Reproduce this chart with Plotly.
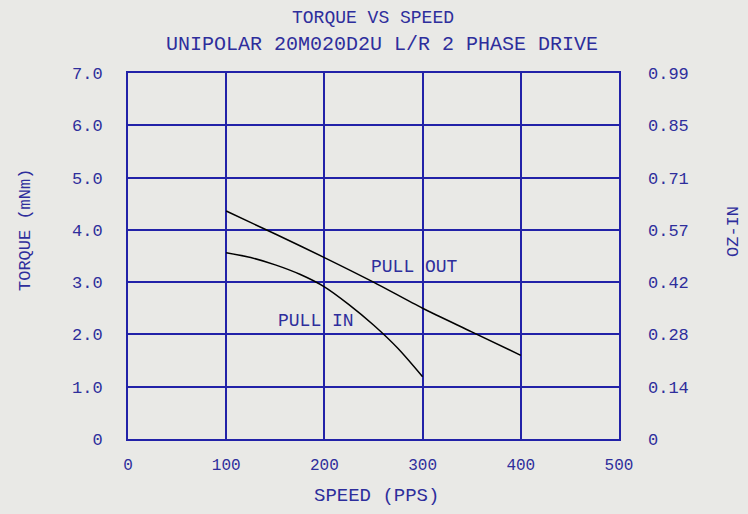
import plotly.graph_objects as go

# speed (pps) vs torque (mNm)
pull_out_speed = [100, 150, 200, 250, 300, 350, 400]
pull_out_torque = [4.36, 3.92, 3.47, 3.00, 2.50, 2.05, 1.60]

pull_in_speed = [100, 125, 150, 175, 200, 225, 250, 275, 300]
pull_in_torque = [3.56, 3.47, 3.33, 3.15, 2.91, 2.57, 2.18, 1.73, 1.19]

torque_ticks = [0, 1, 2, 3, 4, 5, 6, 7]
torque_labels = ["0", "1.0", "2.0", "3.0", "4.0", "5.0", "6.0", "7.0"]
ozin_labels = ["0", "0.14", "0.28", "0.42", "0.57", "0.71", "0.85", "0.99"]
speed_ticks = [0, 100, 200, 300, 400, 500]

BLUE = "#2222a8"
TEXT = "#2e2e9c"
BG = "#e9e9e6"
FONT = "Liberation Mono"

fig = go.Figure()
fig.add_trace(go.Scatter(x=pull_out_speed, y=pull_out_torque, mode="lines",
                         line=dict(color="black", width=1.5, shape="spline",
                                   smoothing=0.8),
                         name="PULL OUT"))
fig.add_trace(go.Scatter(x=pull_in_speed, y=pull_in_torque, mode="lines",
                         line=dict(color="black", width=1.5, shape="spline",
                                   smoothing=0.8),
                         name="PULL IN"))
# dummy trace so the right axis is drawn
fig.add_trace(go.Scatter(x=[None], y=[None], yaxis="y2", showlegend=False))

axis_common = dict(showgrid=True, gridcolor=BLUE, gridwidth=2,
                   showline=True, linecolor=BLUE, linewidth=2,
                   zeroline=False, ticks="")

fig.update_layout(
    width=748, height=514,
    margin=dict(l=128, r=129, t=73, b=75),
    paper_bgcolor=BG, plot_bgcolor=BG,
    showlegend=False,
    xaxis=dict(range=[0, 500], tickvals=speed_ticks, mirror=True,
               ticklabelstandoff=10,
               tickfont=dict(family=FONT, size=16, color=TEXT),
               **axis_common),
    yaxis=dict(range=[0, 7], tickvals=torque_ticks, ticktext=torque_labels,
               mirror=True, ticklabelstandoff=20,
               tickfont=dict(family=FONT, size=17, color=TEXT),
               **axis_common),
    yaxis2=dict(range=[0, 7], tickvals=torque_ticks, ticktext=ozin_labels,
                overlaying="y", side="right", showgrid=False, showline=False,
                zeroline=False, ticks="", ticklabelstandoff=28,
                tickfont=dict(family=FONT, size=17, color=TEXT)),
)

# pixel -> paper coordinates
plot_w = 748 - 128 - 129
plot_h = 514 - 73 - 75
px = lambda x: (x - 128) / plot_w
py = lambda y: (439 - y) / plot_h


def note(text, x, y, xref="paper", yref="paper", size=17, angle=0):
    fig.add_annotation(text=text, x=x, y=y, xref=xref, yref=yref,
                       xanchor="center", yanchor="middle",
                       showarrow=False, textangle=angle,
                       font=dict(family=FONT, size=size, color=TEXT))


note("TORQUE VS SPEED", px(373), py(18), size=18)
note("UNIPOLAR 20M020D2U L/R 2 PHASE DRIVE", px(382), py(45), size=20)
note("SPEED (PPS)", px(376), py(496), size=19)
note("TORQUE (mNm)", px(25), py(230), size=17, angle=-90)
note("OZ-IN", px(733), py(232), size=17, angle=-90)

note("PULL OUT", 292, 3.29, xref="x", yref="y", size=18)
note("PULL IN", 191, 2.26, xref="x", yref="y", size=18)

fig.write_html("out.html", config={"displayModeBar": False},
               post_script="document.body.style.margin='0';")
